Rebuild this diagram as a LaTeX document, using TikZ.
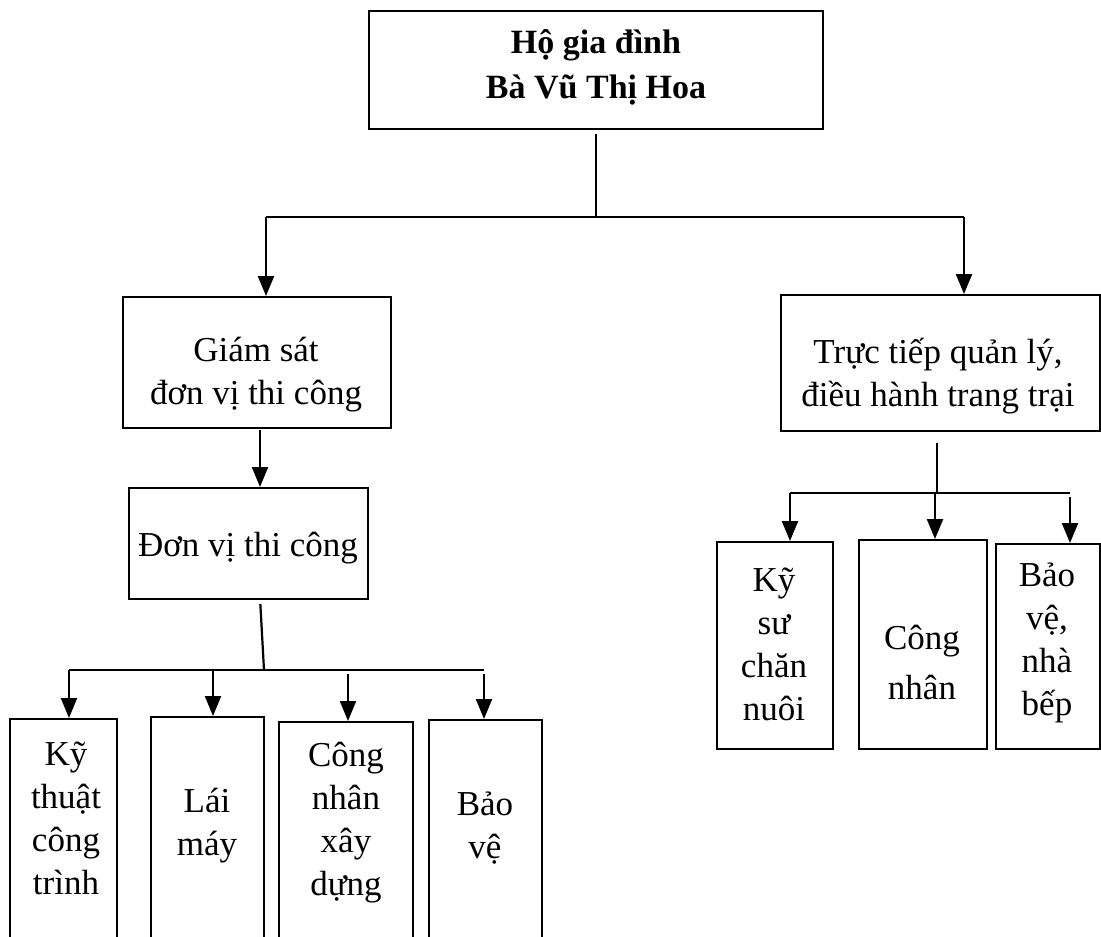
\documentclass[tikz,border=0pt]{standalone}
\usepackage{fontspec}
\setmainfont{Liberation Serif}
\usetikzlibrary{arrows.meta, positioning}
\tikzset{
  frame/.style = {draw, line width=2pt, inner sep=0pt, anchor=north west},
  txt/.style   = {align=center, inner sep=0pt, font=\fontsize{35}{43}\selectfont},
  conn/.style  = {line width=2.2pt},
  arrow/.style = {-{Triangle[length=20pt, width=16pt]}, line width=2.2pt},
}

\begin{document}
\begin{tikzpicture}[x=1pt, y=-1pt]
  \path[use as bounding box, clip] (0,0) rectangle (1101,937);
  % frames: name/left/top/right/bottom
  \foreach \n/\xa/\ya/\xb/\yb in {ho/368/10/822/128, gs/122/296/390/427,
      tt/780/294/1099/430, dv/128/487/367/598,
      kt/9/718/116/960, lm/150/716/263/960, cn/278/721/412/960, bv/428/719/541/960,
      ks/716/541/832/748, cnh/858/539/986/748, bvn/995/543/1099/748} {
    \node[frame, minimum width={(\xb-\xa)*1pt}, minimum height={(\yb-\ya)*1pt}] (\n) at (\xa,\ya) {};
  }
  % texts
  \node[txt, font=\fontsize{34}{45}\selectfont\bfseries] (ho-t) at (596,67) {Hộ gia đình\\Bà Vũ Thị Hoa};
  \node[txt] (gs-t) at (256,375) {Giám sát\\đơn vị thi công};
  \node[txt] (tt-t) at (938,376) {Trực tiếp quản lý,\\điều hành trang trại};
  \node[txt] (dv-t) at (248,548) {Đơn vị thi công};
  \node[txt] (kt-t) at (66,818) {Kỹ\\thuật\\công\\trình};
  \node[txt] (lm-t) at (207,826) {Lái\\máy};
  \node[txt] (cn-t) at (346,823) {Công\\nhân\\xây\\dựng};
  \node[txt] (bv-t) at (485,828) {Bảo\\vệ};
  \node[txt] (ks-t) at (774,644) {Kỹ\\sư\\chăn\\nuôi};
  \node[txt, font=\fontsize{35}{50}\selectfont] (cnh-t) at (922,662) {Công\\nhân};
  \node[txt] (bvn-t) at (1047,643) {Bảo\\vệ,\\nhà\\bếp};

  % top level
  \coordinate (j0) at (596,217);
  \coordinate (jl) at (266,217);
  \coordinate (jr) at (964,217);
  \draw[conn, shorten <=4pt] (ho.south) -- (j0);
  \draw[conn] (jl) -- (jr);
  \draw[arrow] (jl) -- (jl |- gs.north);
  \draw[arrow] (jr) -- (jr |- tt.north);

  % left branch
  \coordinate (g0) at (260,427);
  \draw[arrow, shorten <=3pt] (g0) -- (g0 |- dv.north);
  \coordinate (d0) at (260,598);
  \coordinate (j1) at (264,670);
  \coordinate (kl) at (69,670);
  \coordinate (kr) at (484,670);
  \draw[conn, shorten <=6pt] (d0) -- (j1);
  \draw[conn] (kl) -- (kr);
  \foreach \n/\x/\gap in {kt/69/0, lm/213/0, cn/348/4, bv/484/4} {
    \coordinate (a\n) at (\x,670);
    \draw[arrow, shorten <=\gap pt] (a\n) -- (a\n |- \n.north);
  }

  % right branch
  \coordinate (t0) at (937,430);
  \coordinate (j2) at (937,493);
  \coordinate (rl) at (790,493);
  \coordinate (rr) at (1070,493);
  \draw[conn, shorten <=13pt] (t0) -- (j2);
  \draw[conn] (rl) -- (rr);
  \foreach \n/\x/\gap in {ks/790/0, cnh/935/0, bvn/1070/4} {
    \coordinate (a\n) at (\x,493);
    \draw[arrow, shorten <=\gap pt] (a\n) -- (a\n |- \n.north);
  }
\end{tikzpicture}
\end{document}
